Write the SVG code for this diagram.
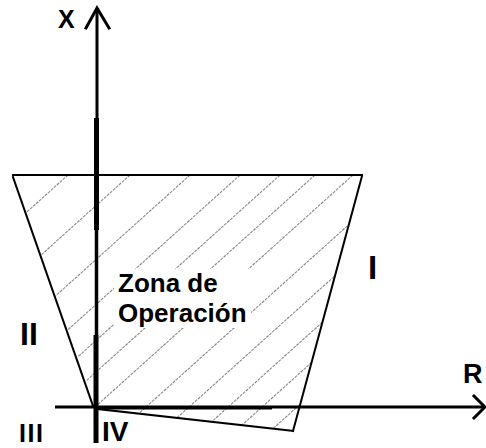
<svg xmlns="http://www.w3.org/2000/svg" width="486" height="448" viewBox="0 0 486 448">
<style>
  text { font-family: "Liberation Sans", Arial, sans-serif; font-weight: bold; fill: #000; }
  .edge { stroke: #000; stroke-width: 2; fill: none; stroke-linecap: square; }
  .hatch { stroke: #8a8a8a; stroke-width: 1.1; fill: none; stroke-dasharray: 3 1; }
  .axis { stroke: #000; fill: none; stroke-linecap: butt; }
  .head { stroke: #000; stroke-width: 3; fill: none; stroke-linejoin: miter; stroke-linecap: square; }
</style>
<defs>
  <clipPath id="trap">
    <polygon points="13,175 362,175 293,431 96,408"/>
  </clipPath>
</defs>
<rect width="486" height="448" fill="#fff"/>
<g id="zona-operacion">
  <g clip-path="url(#trap)" class="hatch">
    <line x1="68" y1="175" x2="-300" y2="506"/>
    <line x1="130" y1="175" x2="-238" y2="506"/>
    <line x1="190" y1="175" x2="-178" y2="506"/>
    <line x1="240" y1="175" x2="-128" y2="506"/>
    <line x1="280" y1="175" x2="-88" y2="506"/>
    <line x1="315" y1="175" x2="-53" y2="506"/>
    <line x1="353" y1="175" x2="-15" y2="506"/>
    <line x1="404" y1="175" x2="36" y2="506"/>
    <line x1="447" y1="175" x2="79" y2="506"/>
    <line x1="486" y1="175" x2="118" y2="506"/>
    <line x1="520" y1="175" x2="152" y2="506"/>
    <line x1="555" y1="175" x2="187" y2="506"/>
  </g>
  <line class="edge" x1="13" y1="175" x2="362" y2="175"/>
  <line class="edge" x1="13" y1="177" x2="93" y2="406"/>
  <line class="edge" x1="362" y1="176" x2="293" y2="431"/>
  <polyline class="edge" points="98,409 293,431"/>
  <rect x="114" y="269" width="137" height="59" fill="#fff"/>
  <text x="118" y="292" font-size="26">Zona de</text>
  <text x="118" y="322" font-size="26">Operación</text>
</g>
<g id="connectors">
  <line class="axis" x1="97" y1="9" x2="97" y2="118" stroke-width="3"/>
  <line class="axis" x1="96.5" y1="118" x2="96.5" y2="230" stroke-width="5"/>
  <line class="axis" x1="96.5" y1="230" x2="96.5" y2="335" stroke-width="3.5"/>
  <line class="axis" x1="96" y1="335" x2="96" y2="443" stroke-width="5"/>
  <polyline class="head" points="86,28 97,8 109,28"/>
  <line class="axis" x1="55" y1="407" x2="484" y2="407" stroke-width="3"/>
  <line class="axis" x1="98" y1="408" x2="272" y2="408" stroke-width="3"/>
  <polyline class="head" points="474,396 485,407 474,418"/>
</g>
<g id="label-x"><text x="58" y="28" font-size="25">X</text></g>
<g id="label-r"><text x="463" y="383" font-size="27">R</text></g>
<g id="label-i"><text x="368" y="279" font-size="33">I</text></g>
<g id="label-ii"><text x="20" y="345" font-size="32">II</text></g>
<g id="label-iii"><text x="19" y="442" font-size="25" textLength="24" lengthAdjust="spacing">III</text></g>
<g id="label-iv"><text x="102" y="441" font-size="28">IV</text></g>
</svg>
